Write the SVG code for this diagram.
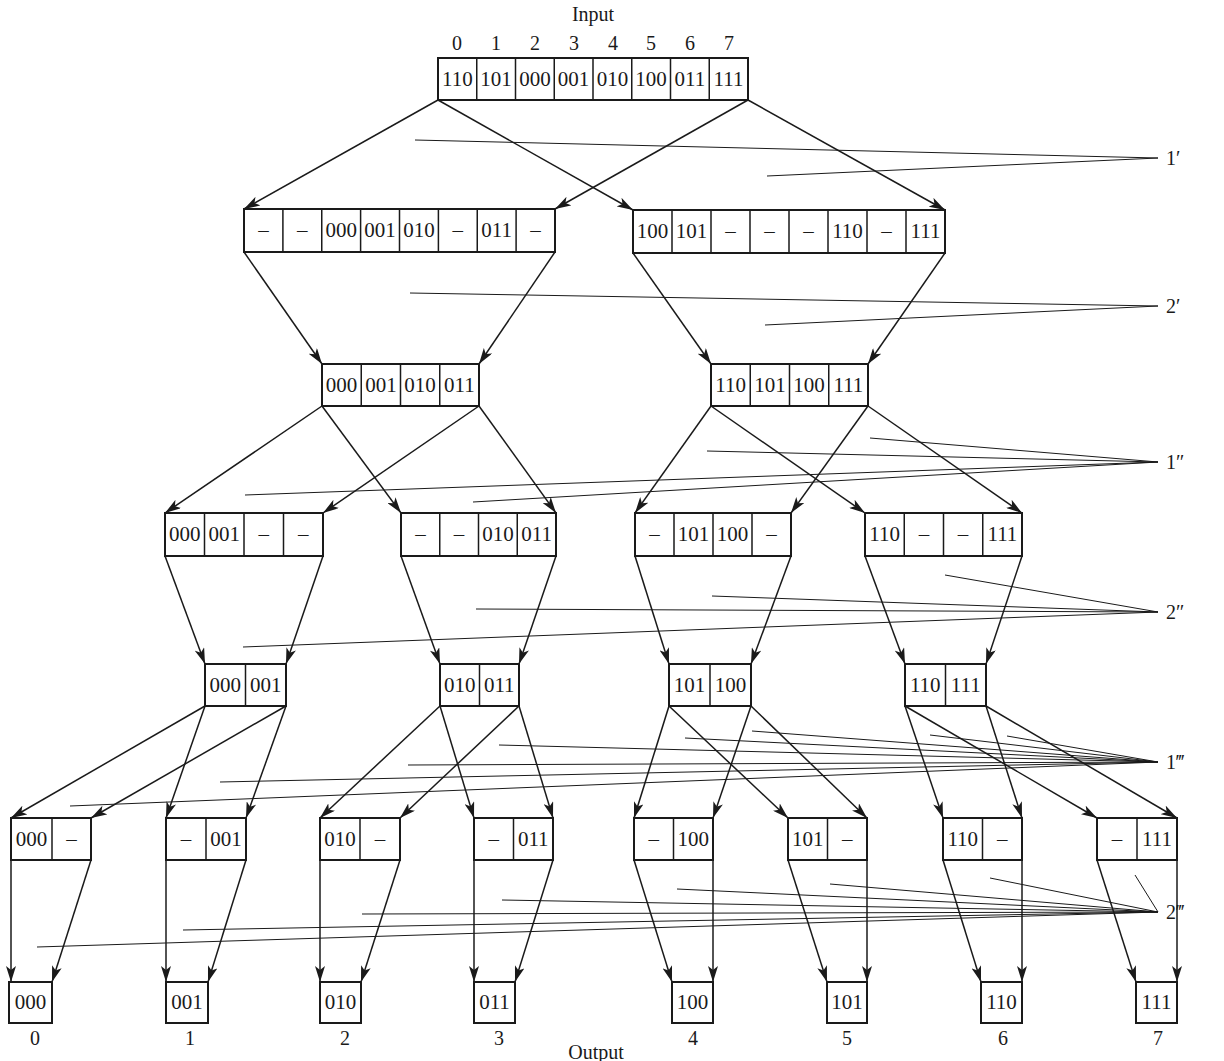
<svg xmlns="http://www.w3.org/2000/svg" width="1224" height="1061" viewBox="0 0 1224 1061">
<style>
  .bx { fill: #fff; stroke: #1a1a1a; stroke-width: 2; }
  .dv { stroke: #1a1a1a; stroke-width: 1.5; }
  text { font-family: "Liberation Serif", "DejaVu Serif", serif; fill: #1a1a1a; text-anchor: middle; }
  .v { font-size: 21px; }
  .t { font-size: 20px; }
  .lb { font-size: 20px; text-anchor: start; }
  #connectors line { stroke: #1a1a1a; stroke-width: 1.5; marker-end: url(#ah); }
  #labellines line { stroke: #1a1a1a; stroke-width: 1; }
</style>
<defs>
  <marker id="ah" markerUnits="userSpaceOnUse" markerWidth="16" markerHeight="10" refX="16" refY="5" orient="auto">
    <path d="M0,0 L16,5 L0,10 L4,5 z" fill="#1a1a1a"/>
  </marker>
</defs>
<rect width="1224" height="1061" fill="#fff"/>

<!-- titles -->
<text class="t" x="593" y="21">Input</text>
<g id="input-indices">
  <text class="t" x="457" y="50">0</text><text class="t" x="496" y="50">1</text>
  <text class="t" x="535" y="50">2</text><text class="t" x="574" y="50">3</text>
  <text class="t" x="613" y="50">4</text><text class="t" x="651" y="50">5</text>
  <text class="t" x="690" y="50">6</text><text class="t" x="729" y="50">7</text>
</g>

<!-- label lines -->
<g id="labellines">
  <line x1="415" y1="140" x2="1158" y2="158"/><line x1="767" y1="176" x2="1158" y2="158"/>
  <line x1="410" y1="293" x2="1158" y2="306"/><line x1="765" y1="325" x2="1158" y2="306"/>
  <line x1="707" y1="451" x2="1158" y2="462"/><line x1="870" y1="438" x2="1158" y2="462"/>
  <line x1="245" y1="495" x2="1158" y2="462"/><line x1="473" y1="502" x2="1158" y2="462"/>
  <line x1="945" y1="575" x2="1158" y2="612"/><line x1="712" y1="596" x2="1158" y2="612"/>
  <line x1="476" y1="609" x2="1158" y2="612"/><line x1="243" y1="647" x2="1158" y2="612"/>
  <line x1="685" y1="738" x2="1158" y2="762"/><line x1="752" y1="731" x2="1158" y2="762"/>
  <line x1="930" y1="735" x2="1158" y2="762"/><line x1="1007" y1="736" x2="1158" y2="762"/>
  <line x1="499" y1="745" x2="1158" y2="762"/><line x1="408" y1="765" x2="1158" y2="762"/>
  <line x1="220" y1="782" x2="1158" y2="762"/><line x1="70" y1="806" x2="1158" y2="762"/>
  <line x1="1135" y1="875" x2="1158" y2="912"/><line x1="990" y1="878" x2="1158" y2="912"/>
  <line x1="830" y1="884" x2="1158" y2="912"/><line x1="677" y1="889" x2="1158" y2="912"/>
  <line x1="502" y1="900" x2="1158" y2="912"/><line x1="362" y1="914" x2="1158" y2="912"/>
  <line x1="183" y1="930" x2="1158" y2="912"/><line x1="37" y1="947" x2="1158" y2="912"/>
</g>
<g id="stage-labels">
  <text class="lb" x="1166" y="165">1′</text>
  <text class="lb" x="1166" y="313">2′</text>
  <text class="lb" x="1166" y="469">1″</text>
  <text class="lb" x="1166" y="619">2″</text>
  <text class="lb" x="1166" y="769">1‴</text>
  <text class="lb" x="1166" y="919">2‴</text>
</g>

<!-- connectors -->
<g id="connectors">
  <line x1="438" y1="100" x2="244" y2="209"/><line x1="438" y1="100" x2="633" y2="210"/>
  <line x1="748" y1="100" x2="555" y2="209"/><line x1="748" y1="100" x2="945" y2="210"/>
  <line x1="244" y1="252" x2="322" y2="364"/><line x1="555" y1="252" x2="479" y2="364"/>
  <line x1="633" y1="253" x2="711" y2="364"/><line x1="945" y1="253" x2="868" y2="364"/>
  <line x1="322" y1="406" x2="165" y2="513"/><line x1="322" y1="406" x2="401" y2="513"/>
  <line x1="479" y1="406" x2="323" y2="513"/><line x1="479" y1="406" x2="556" y2="513"/>
  <line x1="711" y1="406" x2="635" y2="513"/><line x1="711" y1="406" x2="865" y2="513"/>
  <line x1="868" y1="406" x2="791" y2="513"/><line x1="868" y1="406" x2="1022" y2="513"/>
  <line x1="165" y1="556" x2="205" y2="664"/><line x1="323" y1="556" x2="286" y2="664"/>
  <line x1="401" y1="556" x2="440" y2="664"/><line x1="556" y1="556" x2="519" y2="664"/>
  <line x1="635" y1="556" x2="669" y2="664"/><line x1="791" y1="556" x2="751" y2="664"/>
  <line x1="865" y1="556" x2="905" y2="664"/><line x1="1022" y1="556" x2="986" y2="664"/>
  <line x1="205" y1="706" x2="11" y2="818"/><line x1="205" y1="706" x2="166" y2="818"/>
  <line x1="286" y1="706" x2="91" y2="818"/><line x1="286" y1="706" x2="246" y2="818"/>
  <line x1="440" y1="706" x2="320" y2="818"/><line x1="440" y1="706" x2="474" y2="818"/>
  <line x1="519" y1="706" x2="400" y2="818"/><line x1="519" y1="706" x2="553" y2="818"/>
  <line x1="669" y1="706" x2="634" y2="818"/><line x1="669" y1="706" x2="788" y2="818"/>
  <line x1="751" y1="706" x2="713" y2="818"/><line x1="751" y1="706" x2="867" y2="818"/>
  <line x1="905" y1="706" x2="943" y2="818"/><line x1="905" y1="706" x2="1097" y2="818"/>
  <line x1="986" y1="706" x2="1022" y2="818"/><line x1="986" y1="706" x2="1177" y2="818"/>
  <line x1="11" y1="860" x2="11" y2="982"/><line x1="91" y1="860" x2="52" y2="982"/>
  <line x1="166" y1="860" x2="166" y2="982"/><line x1="246" y1="860" x2="208" y2="982"/>
  <line x1="320" y1="860" x2="320" y2="982"/><line x1="400" y1="860" x2="361" y2="982"/>
  <line x1="474" y1="860" x2="474" y2="982"/><line x1="553" y1="860" x2="515" y2="982"/>
  <line x1="634" y1="860" x2="672" y2="982"/><line x1="713" y1="860" x2="713" y2="982"/>
  <line x1="788" y1="860" x2="827" y2="982"/><line x1="867" y1="860" x2="867" y2="982"/>
  <line x1="943" y1="860" x2="981" y2="982"/><line x1="1022" y1="860" x2="1022" y2="982"/>
  <line x1="1097" y1="860" x2="1136" y2="982"/><line x1="1177" y1="860" x2="1177" y2="982"/>
</g>

<!-- input -->
<g id="input">
  <rect class="bx" x="438" y="58" width="310" height="42"/>
  <path class="dv" d="M476.75,58V100M515.5,58V100M554.25,58V100M593,58V100M631.75,58V100M670.5,58V100M709.25,58V100"/>
  <text class="v" x="457.4" y="86">110</text><text class="v" x="496.1" y="86">101</text>
  <text class="v" x="534.9" y="86">000</text><text class="v" x="573.6" y="86">001</text>
  <text class="v" x="612.4" y="86">010</text><text class="v" x="651.1" y="86">100</text>
  <text class="v" x="689.9" y="86">011</text><text class="v" x="728.6" y="86">111</text>
</g>

<!-- stage 1' -->
<g id="s1-left">
  <rect class="bx" x="244" y="209" width="311" height="43"/>
  <path class="dv" d="M282.9,209V252M321.75,209V252M360.6,209V252M399.5,209V252M438.4,209V252M477.25,209V252M516.1,209V252"/>
  <text class="v" x="263.4" y="237">–</text><text class="v" x="302.3" y="237">–</text>
  <text class="v" x="341.2" y="237">000</text><text class="v" x="380.1" y="237">001</text>
  <text class="v" x="418.9" y="237">010</text><text class="v" x="457.8" y="237">–</text>
  <text class="v" x="496.7" y="237">011</text><text class="v" x="535.6" y="237">–</text>
</g>
<g id="s1-right">
  <rect class="bx" x="633" y="210" width="312" height="43"/>
  <path class="dv" d="M672,210V253M711,210V253M750,210V253M789,210V253M828,210V253M867,210V253M906,210V253"/>
  <text class="v" x="652.5" y="238">100</text><text class="v" x="691.5" y="238">101</text>
  <text class="v" x="730.5" y="238">–</text><text class="v" x="769.5" y="238">–</text>
  <text class="v" x="808.5" y="238">–</text><text class="v" x="847.5" y="238">110</text>
  <text class="v" x="886.5" y="238">–</text><text class="v" x="925.5" y="238">111</text>
</g>

<!-- stage 2' -->
<g id="s2-left">
  <rect class="bx" x="322" y="364" width="157" height="42"/>
  <path class="dv" d="M361.25,364V406M400.5,364V406M439.75,364V406"/>
  <text class="v" x="341.6" y="392">000</text><text class="v" x="380.9" y="392">001</text>
  <text class="v" x="420.1" y="392">010</text><text class="v" x="459.4" y="392">011</text>
</g>
<g id="s2-right">
  <rect class="bx" x="711" y="364" width="157" height="42"/>
  <path class="dv" d="M750.25,364V406M789.5,364V406M828.75,364V406"/>
  <text class="v" x="730.6" y="392">110</text><text class="v" x="769.9" y="392">101</text>
  <text class="v" x="809.1" y="392">100</text><text class="v" x="848.4" y="392">111</text>
</g>

<!-- stage 1'' -->
<g id="s3-a">
  <rect class="bx" x="165" y="513" width="158" height="43"/>
  <path class="dv" d="M204.5,513V556M244,513V556M283.5,513V556"/>
  <text class="v" x="184.75" y="541">000</text><text class="v" x="224.25" y="541">001</text>
  <text class="v" x="263.75" y="541">–</text><text class="v" x="303.25" y="541">–</text>
</g>
<g id="s3-b">
  <rect class="bx" x="401" y="513" width="155" height="43"/>
  <path class="dv" d="M439.75,513V556M478.5,513V556M517.25,513V556"/>
  <text class="v" x="420.4" y="541">–</text><text class="v" x="459.1" y="541">–</text>
  <text class="v" x="497.9" y="541">010</text><text class="v" x="536.6" y="541">011</text>
</g>
<g id="s3-c">
  <rect class="bx" x="635" y="513" width="156" height="43"/>
  <path class="dv" d="M674,513V556M713,513V556M752,513V556"/>
  <text class="v" x="654.5" y="541">–</text><text class="v" x="693.5" y="541">101</text>
  <text class="v" x="732.5" y="541">100</text><text class="v" x="771.5" y="541">–</text>
</g>
<g id="s3-d">
  <rect class="bx" x="865" y="513" width="157" height="43"/>
  <path class="dv" d="M904.25,513V556M943.5,513V556M982.75,513V556"/>
  <text class="v" x="884.6" y="541">110</text><text class="v" x="923.9" y="541">–</text>
  <text class="v" x="963.1" y="541">–</text><text class="v" x="1002.4" y="541">111</text>
</g>

<!-- stage 2'' -->
<g id="s4-e">
  <rect class="bx" x="205" y="664" width="81" height="42"/>
  <path class="dv" d="M245.5,664V706"/>
  <text class="v" x="225.25" y="692">000</text><text class="v" x="265.75" y="692">001</text>
</g>
<g id="s4-f">
  <rect class="bx" x="440" y="664" width="79" height="42"/>
  <path class="dv" d="M479.5,664V706"/>
  <text class="v" x="459.75" y="692">010</text><text class="v" x="499.25" y="692">011</text>
</g>
<g id="s4-g">
  <rect class="bx" x="669" y="664" width="82" height="42"/>
  <path class="dv" d="M710,664V706"/>
  <text class="v" x="689.5" y="692">101</text><text class="v" x="730.5" y="692">100</text>
</g>
<g id="s4-h">
  <rect class="bx" x="905" y="664" width="81" height="42"/>
  <path class="dv" d="M945.5,664V706"/>
  <text class="v" x="925.25" y="692">110</text><text class="v" x="965.75" y="692">111</text>
</g>

<!-- stage 1''' -->
<g id="s5-0">
  <rect class="bx" x="11" y="818" width="80" height="42"/><path class="dv" d="M52,818V860"/>
  <text class="v" x="31.5" y="846">000</text><text class="v" x="71.5" y="846">–</text>
</g>
<g id="s5-1">
  <rect class="bx" x="166" y="818" width="80" height="42"/><path class="dv" d="M206,818V860"/>
  <text class="v" x="186" y="846">–</text><text class="v" x="226" y="846">001</text>
</g>
<g id="s5-2">
  <rect class="bx" x="320" y="818" width="80" height="42"/><path class="dv" d="M360,818V860"/>
  <text class="v" x="340" y="846">010</text><text class="v" x="380" y="846">–</text>
</g>
<g id="s5-3">
  <rect class="bx" x="474" y="818" width="79" height="42"/><path class="dv" d="M513.5,818V860"/>
  <text class="v" x="493.75" y="846">–</text><text class="v" x="533.25" y="846">011</text>
</g>
<g id="s5-4">
  <rect class="bx" x="634" y="818" width="79" height="42"/><path class="dv" d="M673.5,818V860"/>
  <text class="v" x="653.75" y="846">–</text><text class="v" x="693.25" y="846">100</text>
</g>
<g id="s5-5">
  <rect class="bx" x="788" y="818" width="79" height="42"/><path class="dv" d="M827.5,818V860"/>
  <text class="v" x="807.75" y="846">101</text><text class="v" x="847.25" y="846">–</text>
</g>
<g id="s5-6">
  <rect class="bx" x="943" y="818" width="79" height="42"/><path class="dv" d="M982.5,818V860"/>
  <text class="v" x="962.75" y="846">110</text><text class="v" x="1002.25" y="846">–</text>
</g>
<g id="s5-7">
  <rect class="bx" x="1097" y="818" width="80" height="42"/><path class="dv" d="M1137,818V860"/>
  <text class="v" x="1117" y="846">–</text><text class="v" x="1157" y="846">111</text>
</g>

<!-- outputs -->
<g id="out-0"><rect class="bx" x="9" y="982" width="43" height="41"/><text class="v" x="30.5" y="1009">000</text></g>
<g id="out-1"><rect class="bx" x="166" y="982" width="42" height="41"/><text class="v" x="187" y="1009">001</text></g>
<g id="out-2"><rect class="bx" x="320" y="982" width="41" height="41"/><text class="v" x="340.5" y="1009">010</text></g>
<g id="out-3"><rect class="bx" x="474" y="982" width="41" height="41"/><text class="v" x="494.5" y="1009">011</text></g>
<g id="out-4"><rect class="bx" x="672" y="982" width="41" height="41"/><text class="v" x="692.5" y="1009">100</text></g>
<g id="out-5"><rect class="bx" x="827" y="982" width="40" height="41"/><text class="v" x="847" y="1009">101</text></g>
<g id="out-6"><rect class="bx" x="981" y="982" width="41" height="41"/><text class="v" x="1001.5" y="1009">110</text></g>
<g id="out-7"><rect class="bx" x="1136" y="982" width="41" height="41"/><text class="v" x="1156.5" y="1009">111</text></g>

<g id="output-indices">
  <text class="t" x="35" y="1045">0</text><text class="t" x="190" y="1045">1</text>
  <text class="t" x="345" y="1045">2</text><text class="t" x="499" y="1045">3</text>
  <text class="t" x="693" y="1045">4</text><text class="t" x="847" y="1045">5</text>
  <text class="t" x="1003" y="1045">6</text><text class="t" x="1158" y="1045">7</text>
</g>
<text class="t" x="596" y="1059">Output</text>
</svg>
